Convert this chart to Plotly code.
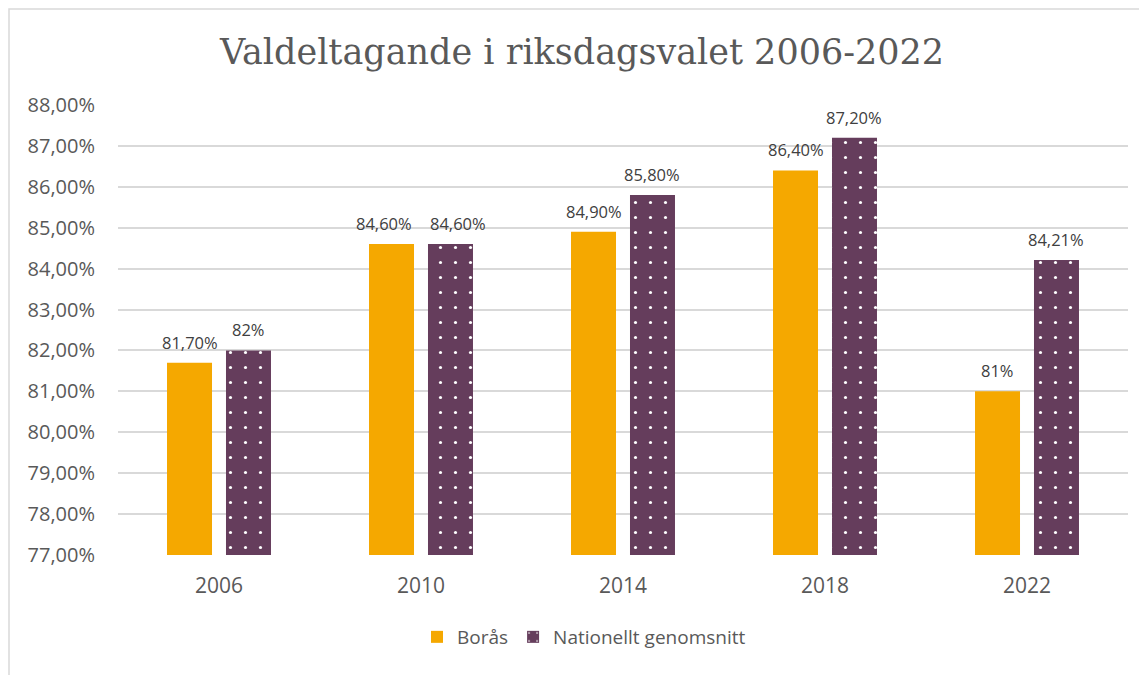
import plotly.graph_objects as go

years = ["2006", "2010", "2014", "2018", "2022"]
boras = [0.817, 0.846, 0.849, 0.864, 0.81]
nationellt = [0.82, 0.846, 0.858, 0.872, 0.8421]
boras_labels = ["81,70%", "84,60%", "84,90%", "86,40%", "81%"]
nat_labels = ["82%", "84,60%", "85,80%", "87,20%", "84,21%"]
y_ticks = [0.77, 0.78, 0.79, 0.80, 0.81, 0.82, 0.83, 0.84, 0.85, 0.86, 0.87, 0.88]

# page has an 8px body margin, so the figure is drawn 8px right/down
OFF = 8
W, H = 1147 - OFF, 675 - OFF
ml, mt = 118 - OFF, 105 - OFF
mr, mb = 19, 120
pw, ph = W - ml - mr, H - mt - mb

def px_x(p):
    return (p - OFF - ml) / pw

def px_y(p):
    return 1 - (p - OFF - mt) / ph

BARGAP, GROUPGAP = 0.416, 0.237
cat_px = pw / len(years)
shift_px = cat_px * (1 - BARGAP) / 4  # center of each bar slot from category center
# extra horizontal spread of labels where the two labels of a group would touch
label_spread = {1: 8}

fig = go.Figure()
fig.add_trace(go.Bar(
    x=years, y=boras, name="Borås",
    marker=dict(color="#F5A800", line=dict(width=0)),
))
fig.add_trace(go.Bar(
    x=years, y=nationellt, name="Nationellt genomsnitt",
    marker=dict(color="#653D5C", line=dict(width=0),
                pattern=dict(shape=".", fgcolor="white", bgcolor="#653D5C",
                             size=15, solidity=0.035, fillmode="replace")),
))

annotations = []
for vals, labels, sgn in ((boras, boras_labels, -1), (nationellt, nat_labels, 1)):
    for i, (v, lab) in enumerate(zip(vals, labels)):
        annotations.append(dict(
            x=i, y=v, xref="x", yref="y", text=lab, showarrow=False,
            xshift=sgn * (shift_px + label_spread.get(i, 0)), yshift=7,
            yanchor="bottom", xanchor="center",
            font=dict(size=16.5, color="#404040", family="Open Sans")))

fig.update_layout(
    width=W, height=H,
    margin=dict(l=ml, r=mr, t=mt, b=mb),
    paper_bgcolor="white", plot_bgcolor="white",
    separators=",.",
    barmode="group", bargap=BARGAP, bargroupgap=GROUPGAP,
    title=dict(text="Valdeltagande i riksdagsvalet 2006-2022",
               x=(582 - OFF) / W, xref="container", xanchor="center",
               y=1 - (52 - OFF) / H, yref="container", yanchor="middle",
               font=dict(family="DejaVu Serif", size=35, color="#595959")),
    font=dict(family="Open Sans", color="#595959"),
    legend=dict(orientation="h", x=px_x(584), xanchor="center", y=px_y(637), yanchor="middle",
                font=dict(size=19, color="#595959"), itemwidth=30,
                traceorder="normal"),
    xaxis=dict(type="category", categoryorder="array", categoryarray=years,
               range=[-0.5, len(years) - 0.5],
               showgrid=False, showline=False, ticks="",
               tickfont=dict(size=21, color="#595959"), ticklabelstandoff=16),
    yaxis=dict(range=[0.77, 0.88], tickvals=y_ticks, tickformat=".2%",
               showgrid=True, gridcolor="#D9D9D9", gridwidth=1.5,
               zeroline=False, showline=False, ticks="",
               tickfont=dict(size=20, color="#595959"), ticklabelstandoff=22),
    annotations=annotations,
    shapes=[dict(type="rect", xref="paper", yref="paper",
                 x0=px_x(9), x1=px_x(1170), y0=px_y(9), y1=px_y(700),
                 line=dict(color="#D9D9D9", width=1.5), fillcolor="rgba(0,0,0,0)",
                 layer="below")],
)

fig.write_html("out.html")
